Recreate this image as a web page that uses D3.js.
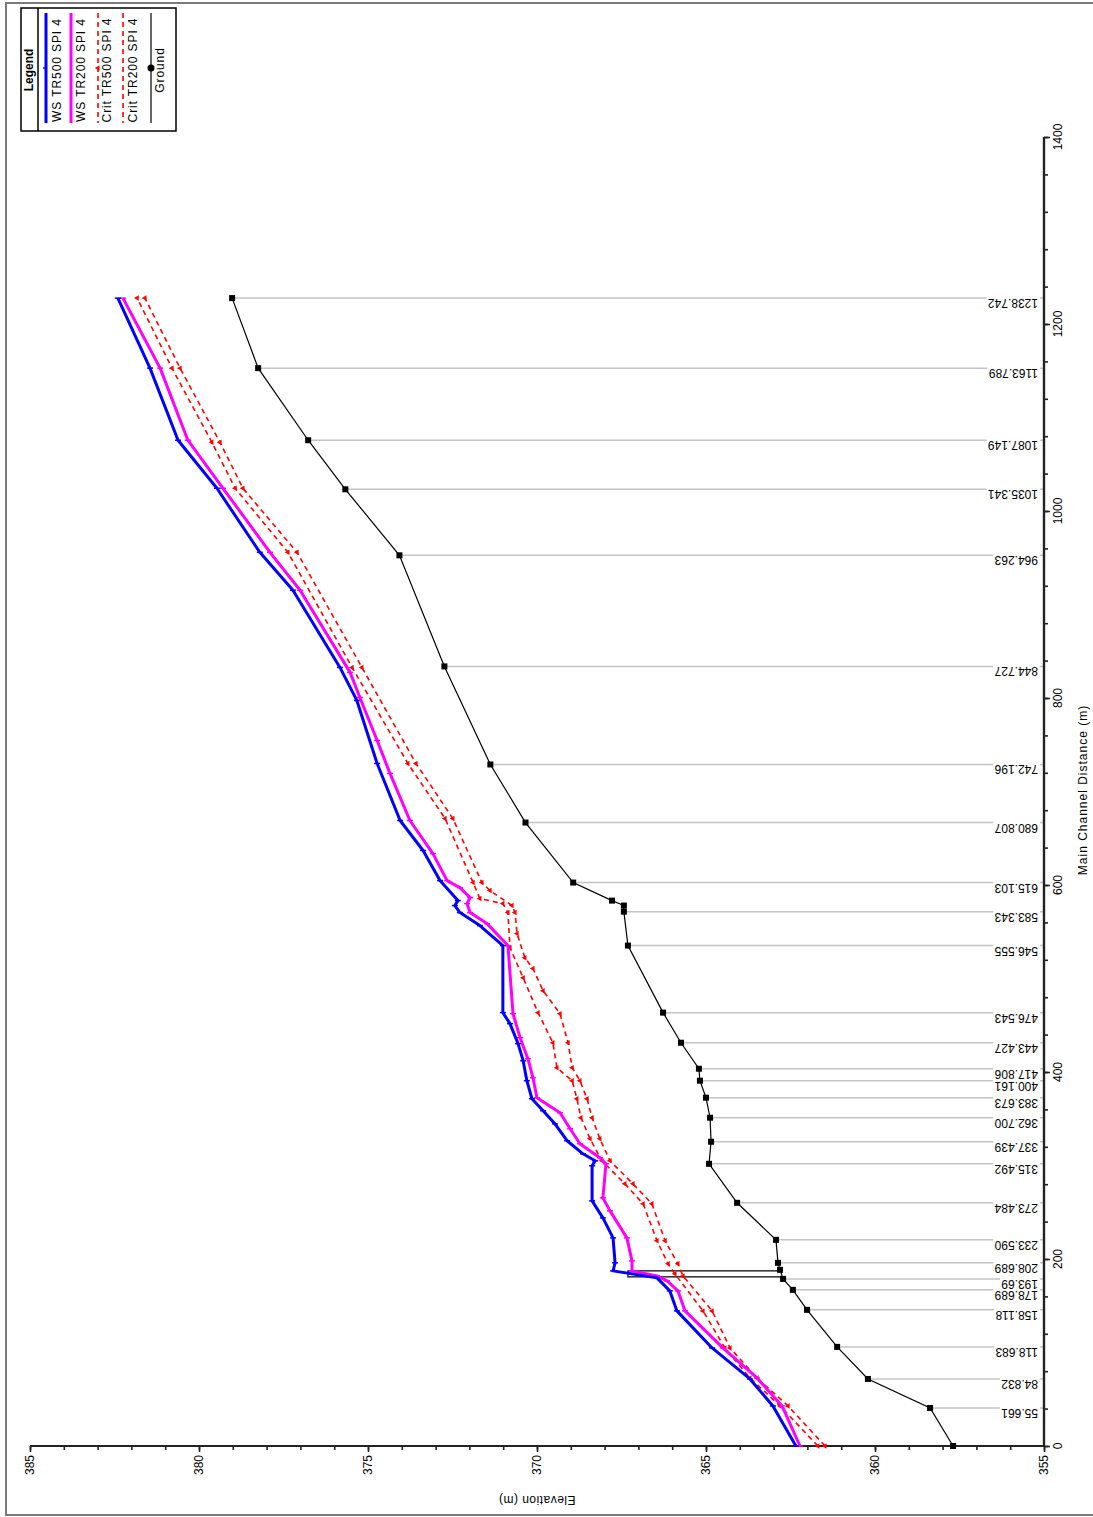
<!DOCTYPE html>
<html><head><meta charset="utf-8">
<script src="https://cdn.jsdelivr.net/npm/d3@7"></script>
<style>body{margin:0;background:#fff}svg{display:block}text{font-family:Arial,"Liberation Sans",sans-serif;fill:#000}</style>
</head><body><svg id="c" width="1093" height="1517"></svg>
<script>
// ---------- data ----------
const seriesNames = ["WS TR500 SPI 4", "WS TR200 SPI 4", "Crit TR500 SPI 4", "Crit TR200 SPI 4", "Ground"];
const stationLabels = ["55.661","84.832","118.683","158.118","178.689","193.69","208.689","233.590","273.484","315.492","337.439","362.700","383.673","400.161","417.806","443.427","476.543","546.555","583.343","615.103","680.807","742.196","844.727","964.263","1035.341","1087.149","1163.789","1238.742"];
const stationDist = [40.7,71.7,106.0,145.6,167.0,178.7,195.9,220.5,260.1,301.8,325.4,351.1,372.5,390.7,403.5,431.3,463.5,535.2,571.5,602.6,666.8,728.9,833.8,952.6,1023.2,1075.7,1152.8,1227.7];
const stationGround = [358.37,360.21,361.12,362.01,362.43,362.72,362.87,362.93,364.08,364.91,364.85,364.88,365.00,365.18,365.21,365.74,366.27,367.31,367.43,368.93,370.34,371.38,372.74,374.07,375.67,376.77,378.25,379.02];

const groundDist = [0,40.7,71.7,106.0,145.6,167.0,178.7,188.4,195.9,220.5,260.1,301.8,325.4,351.1,372.5,390.7,403.5,431.3,463.5,535.2,571.5,578.0,583.3,602.6,666.8,728.9,833.8,952.6,1023.2,1075.7,1152.8,1227.7];
const groundElev = [357.69,358.37,360.21,361.12,362.01,362.43,362.72,362.81,362.87,362.93,364.08,364.91,364.85,364.88,365.00,365.18,365.21,365.74,366.27,367.31,367.43,367.43,367.78,368.93,370.34,371.38,372.74,374.07,375.67,376.77,378.25,379.02];

const wsTR500 = [[0,362.34],[42.8,363.02],[71.7,363.70],[104.9,364.82],[144.5,365.86],[165.9,366.07],[179.8,366.45],[187.3,367.75],[195.9,367.69],[222.6,367.75],[244.0,368.05],[262.2,368.37],[299.7,368.37],[305.0,368.28],[312.5,368.64],[326.5,369.11],[344.6,369.47],[358.6,369.82],[371.4,370.15],[390.7,370.30],[412.1,370.41],[430.3,370.56],[451.7,370.80],[463.5,371.01],[535.2,371.01],[556.6,371.69],[570.5,372.28],[578.0,372.43],[583.3,372.34],[604.7,372.87],[636.9,373.37],[669.0,374.05],[730.0,374.73],[797.4,375.33],[832.7,375.83],[915.2,377.22],[955.8,378.20],[1024.3,379.47],[1075.7,380.62],[1152.8,381.45],[1227.7,382.40]];
const wsTR200 = [[0,362.22],[42.8,362.75],[72.8,363.49],[104.9,364.50],[144.5,365.62],[165.9,365.83],[176.6,366.15],[181.9,366.45],[187.3,367.19],[198.0,367.19],[222.6,367.34],[251.5,367.84],[265.4,368.05],[301.8,367.96],[308.3,368.14],[323.3,368.73],[339.3,369.02],[356.4,369.32],[372.5,370.00],[393.9,370.12],[414.2,370.27],[436.7,370.50],[462.4,370.71],[535.2,370.86],[558.7,371.48],[570.5,371.98],[580.1,372.07],[586.5,371.98],[597.2,372.28],[604.7,372.66],[633.6,373.08],[669.0,373.76],[719.3,374.35],[754.6,374.73],[800.6,375.24],[827.4,375.53],[915.2,377.01],[955.8,377.90],[1024.3,379.29],[1075.7,380.33],[1152.8,381.15],[1227.7,382.25]];
const critTR500 = [[0,361.69],[42.8,362.81],[72.8,363.70],[104.9,364.44],[144.5,365.09],[184.1,365.92],[194.8,366.12],[219.4,366.45],[259.0,366.86],[280.4,367.40],[305.0,368.08],[328.6,368.43],[351.1,368.70],[371.4,368.82],[390.7,368.96],[404.6,369.41],[431.3,369.53],[463.5,369.97],[500.9,370.41],[533.0,370.80],[570.5,370.86],[580.1,371.01],[585.5,371.69],[602.6,371.89],[671.1,372.72],[730.0,373.82],[832.7,375.47],[955.8,377.37],[1024.3,378.93],[1073.5,379.62],[1152.8,380.80],[1227.7,381.83]];
const critTR200 = [[0,361.48],[42.8,362.57],[72.8,363.49],[104.9,364.29],[144.5,364.82],[181.9,365.68],[194.8,365.83],[219.4,366.21],[259.0,366.60],[280.4,367.16],[305.0,367.84],[328.6,368.14],[351.1,368.37],[371.4,368.52],[390.7,368.73],[404.6,368.96],[431.3,369.08],[462.4,369.32],[487.0,369.82],[510.6,370.12],[522.3,370.36],[548.0,370.59],[570.5,370.65],[578.0,370.74],[594.0,371.39],[602.6,371.63],[671.1,372.49],[730.0,373.58],[832.7,375.18],[955.8,377.10],[1024.3,378.70],[1073.5,379.38],[1152.8,380.56],[1227.7,381.60]];
// bridge deck: [distance, ground elevation, deck elevation]
const bridgeFaces = [[180.9,362.72,367.31],[187.3,362.81,367.31]];

const elevMajor = [355,360,365,370,375,380,385];
const distMajor = [0,200,400,600,800,1000,1200,1400];
const xTitle = "Main Channel Distance (m)";
const yTitle = "Elevation (m)";

// ---------- layout ----------
const svg = d3.select("#c");
const x = d3.scaleLinear().domain([355,385]).range([1044,30]);   // elevation -> horizontal
const y = d3.scaleLinear().domain([0,1400]).range([1446,137]);   // distance -> vertical

// outer frame
svg.append("path").attr("d","M1093,3H6V1515H1093").attr("fill","none").attr("stroke","#7a7a7a").attr("stroke-width",2);

// station lines (gray)
const stG = svg.append("g");
stationDist.forEach((d,i)=>{
  stG.append("line").attr("x1",x(stationGround[i])).attr("x2",x(355)).attr("y1",y(d)).attr("y2",y(d))
    .attr("stroke","#c4c4c4").attr("stroke-width",1.5);
});
// station labels with white background
stationDist.forEach((d,i)=>{
  const g = stG.append("g").attr("transform",`translate(${x(355)-6},${y(d)+1}) rotate(180)`);
  const t = g.append("text").attr("font-size",12).attr("text-anchor","start").text(stationLabels[i]);
  const bb = t.node().getBBox();
  g.insert("rect","text").attr("x",bb.x-2).attr("y",bb.y).attr("width",bb.width+3).attr("height",bb.height+2).attr("fill","#fff");
});

// axes
const bottomMinor = d3.axisBottom(x).tickValues(d3.range(355,386,1)).tickSize(4).tickFormat("");
const bottomMajor = d3.axisBottom(x).tickValues(elevMajor).tickSize(6).tickFormat("");
const gB1 = svg.append("g").attr("transform",`translate(0,${y(0)})`).call(bottomMinor);
const gB2 = svg.append("g").attr("transform",`translate(0,${y(0)})`).call(bottomMajor);
const rightMinor = d3.axisRight(y).tickValues(d3.range(0,1401,40)).tickSize(4).tickFormat("");
const rightMajor = d3.axisRight(y).tickValues(distMajor).tickSize(6).tickFormat("");
const gR1 = svg.append("g").attr("transform",`translate(${x(355)},0)`).call(rightMinor);
const gR2 = svg.append("g").attr("transform",`translate(${x(355)},0)`).call(rightMajor);
[gB1,gB2,gR1,gR2].forEach(g=>{
  g.select(".domain").attr("stroke","#222").attr("stroke-width",2.2);
  g.selectAll(".tick line").attr("stroke","#222").attr("stroke-width",1.6);
});
gB1.select(".domain").attr("d",`M${x(385)},0H${x(355)}`);
gB2.select(".domain").attr("d",`M${x(385)},0H${x(355)}`);
gR1.select(".domain").attr("d",`M0,${y(0)}V${y(1400)}`);
gR2.select(".domain").attr("d",`M0,${y(0)}V${y(1400)}`);

// tick labels
svg.append("g").selectAll("text").data(elevMajor).join("text")
  .attr("transform",d=>`translate(${x(d)},${y(0)+9}) rotate(-90)`)
  .attr("text-anchor","end").attr("dy","0.35em").attr("font-size",12).text(d=>d);
svg.append("g").selectAll("text").data(distMajor).join("text")
  .attr("transform",d=>`translate(${x(355)+14},${y(d)}) rotate(-90)`)
  .attr("text-anchor","middle").attr("dy","0.35em").attr("font-size",12).text(d=>d);

// axis titles
svg.append("text").attr("transform",`translate(${x(355)+39},790) rotate(-90)`)
  .attr("text-anchor","middle").attr("dy","0.35em").attr("font-size",12).attr("letter-spacing",1).text(xTitle);
svg.append("text").attr("transform",`translate(${(x(355)+x(385))/2},1496) rotate(180)`)
  .attr("text-anchor","middle").attr("font-size",12).attr("letter-spacing",0.5).text(yTitle);

// bridge
svg.append("path").attr("fill","none").attr("stroke","#000").attr("stroke-width",1.2)
  .attr("d",`M${x(bridgeFaces[0][1])},${y(bridgeFaces[0][0])}H${x(bridgeFaces[0][2])}V${y(bridgeFaces[1][0])}H${x(bridgeFaces[1][1])}`);

// ground
const lineFn = d3.line().x(p=>x(p[1])).y(p=>y(p[0]));
const ground = groundDist.map((d,i)=>[d,groundElev[i]]);
svg.append("path").datum(ground).attr("d",lineFn).attr("fill","none").attr("stroke","#000").attr("stroke-width",1.2);
svg.append("g").selectAll("rect").data(ground).join("rect")
  .attr("x",p=>x(p[1])-3).attr("y",p=>y(p[0])-3).attr("width",6).attr("height",6).attr("fill","#000");

// critical lines
const tri = d3.symbol().type(d3.symbolTriangle).size(13);
function crit(data){
  svg.append("path").datum(data).attr("d",lineFn).attr("fill","none").attr("stroke","#ff0000")
    .attr("stroke-width",1.6).attr("stroke-dasharray","5,4");
  svg.append("g").selectAll("path").data(data).join("path").attr("d",tri)
    .attr("transform",p=>`translate(${x(p[1])},${y(p[0])}) rotate(-90)`).attr("fill","#ff0000");
}
crit(critTR200);
crit(critTR500);

// water surfaces
function ws(data,color){
  svg.append("path").datum(data).attr("d",lineFn).attr("fill","none").attr("stroke",color)
    .attr("stroke-width",3).attr("stroke-linejoin","round");
  svg.append("g").selectAll("line").data(data).join("line")
    .attr("x1",p=>x(p[1])-3).attr("x2",p=>x(p[1])+3).attr("y1",p=>y(p[0])).attr("y2",p=>y(p[0]))
    .attr("stroke",color).attr("stroke-width",1.5);
}
ws(wsTR200,"#ff00ff");
ws(wsTR500,"#0000ff");

// legend
const lg = svg.append("g");
lg.append("rect").attr("x",21).attr("y",8).attr("width",155).attr("height",123).attr("fill","#fff").attr("stroke","#000").attr("stroke-width",1.5);
lg.append("line").attr("x1",38).attr("x2",38).attr("y1",8).attr("y2",131).attr("stroke","#000").attr("stroke-width",1.5);
lg.append("text").attr("transform","translate(29,70) rotate(-90)").attr("text-anchor","middle").attr("dy","0.35em")
  .attr("font-size",12).attr("font-weight","bold").text("Legend");
const legendLineX = [46,71,98,123,151];
const legendTextX = [57,81,107,133,160];
const legendStyle = [
  {c:"#0000ff",w:3,dash:null},{c:"#ff00ff",w:3,dash:null},
  {c:"#ff0000",w:1.6,dash:"5,4"},{c:"#ff0000",w:1.6,dash:"5,4"},{c:"#000",w:1.2,dash:null}];
seriesNames.forEach((n,i)=>{
  const s = legendStyle[i];
  lg.append("line").attr("x1",legendLineX[i]).attr("x2",legendLineX[i]).attr("y1",13).attr("y2",123)
    .attr("stroke",s.c).attr("stroke-width",s.w).attr("stroke-dasharray",s.dash);
  lg.append("text").attr("transform",`translate(${legendTextX[i]},70) rotate(-90)`).attr("text-anchor","middle")
    .attr("dy","0.35em").attr("font-size",12).attr("letter-spacing",0.9).text(n);
});
lg.append("line").attr("x1",legendLineX[0]-3).attr("x2",legendLineX[0]).attr("y1",68).attr("y2",68).attr("stroke","#0000ff").attr("stroke-width",1.5);
lg.append("path").attr("d",tri).attr("transform",`translate(${legendLineX[2]},68) rotate(-90)`).attr("fill","#ff0000");
lg.append("circle").attr("cx",legendLineX[4]).attr("cy",68).attr("r",3.5).attr("fill","#000");
</script></body></html>
